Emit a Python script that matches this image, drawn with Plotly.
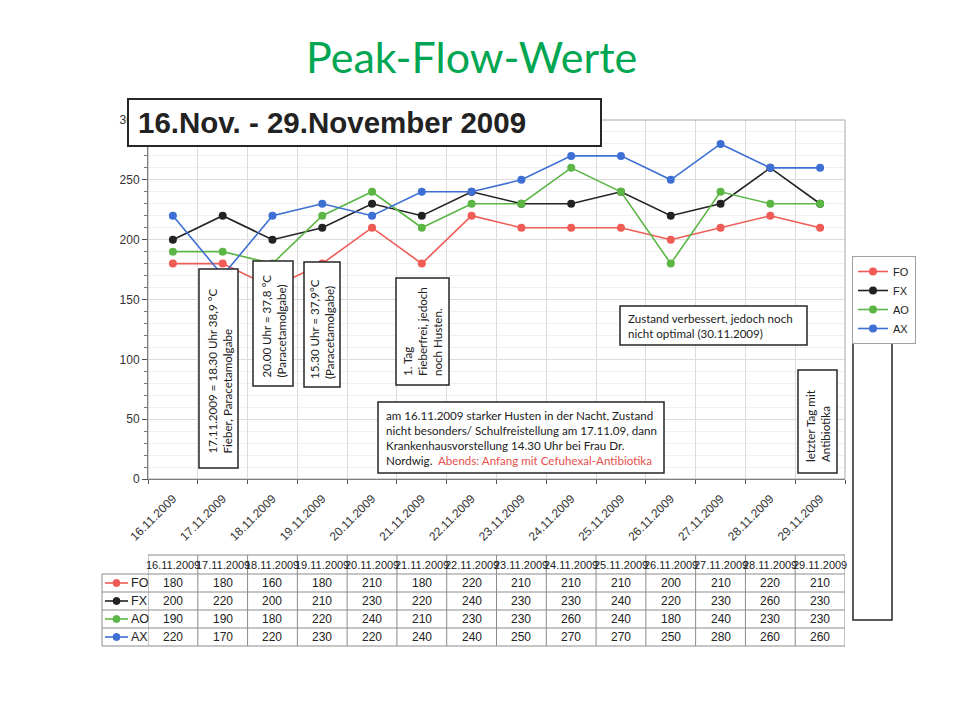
import plotly.graph_objects as go

# ---------------- data ----------------
dates = ["16.11.2009", "17.11.2009", "18.11.2009", "19.11.2009", "20.11.2009",
         "21.11.2009", "22.11.2009", "23.11.2009", "24.11.2009", "25.11.2009",
         "26.11.2009", "27.11.2009", "28.11.2009", "29.11.2009"]
series_names = ["FO", "FX", "AO", "AX"]
fo = [180, 180, 160, 180, 210, 180, 220, 210, 210, 210, 200, 210, 220, 210]
fx = [200, 220, 200, 210, 230, 220, 240, 230, 230, 240, 220, 230, 260, 230]
ao = [190, 190, 180, 220, 240, 210, 230, 230, 260, 240, 180, 240, 230, 230]
ax = [220, 170, 220, 230, 220, 240, 240, 250, 270, 270, 250, 280, 260, 260]
series_values = [fo, fx, ao, ax]
colors = ["#EF5B55", "#222222", "#5CB646", "#3D6FD4"]
y_ticks = [0, 50, 100, 150, 200, 250, 300]

page_title = "Peak-Flow-Werte"
chart_title = "16.Nov. - 29.November 2009"
notes = {
    "n1": "17.11.2009 = 18.30 Uhr 38,9 °C<br>Fieber, Paracetamolgabe",
    "n2": "20.00 Uhr = 37,8 °C<br>(Paracetamolgabe)",
    "n3": "15.30 Uhr = 37,9°C<br>(Paracetamolgabe)",
    "n4": "1. Tag<br>Fieberfrei, jedoch<br>noch Husten.",
    "n5": ("am 16.11.2009 starker Husten in der Nacht, Zustand<br>"
           "nicht besonders/ Schulfreistellung am 17.11.09, dann<br>"
           "Krankenhausvorstellung 14.30 Uhr bei Frau Dr.<br>"
           "Nordwig.  <span style='color:#E8504B'>Abends: Anfang mit Cefuhexal-Antibiotika</span>"),
    "n6": "Zustand verbessert, jedoch noch<br>nicht optimal (30.11.2009)",
    "n7": "letzter Tag mit<br>Antibiotika",
}

# ---------------- geometry helpers (pixel -> paper) ----------------
W, H = 960, 720
X0, X1, YB, YT = 148, 845, 479, 120


def px(x):
    return (x - X0) / (X1 - X0)


def py(y):
    return (YB - y) / (YB - YT)


NOTE_FONT = "Lato, 'Open Sans', sans-serif"
AX_FONT = "Arial, 'Liberation Sans', sans-serif"
NOTE_SIZE = 11.6

fig = go.Figure()
for name, vals, col in zip(series_names, series_values, colors):
    fig.add_trace(go.Scatter(
        x=dates, y=vals, name=name, mode="lines+markers",
        line=dict(color=col, width=1.6),
        marker=dict(color=col, size=8),
    ))

shapes = []
annotations = []

# plot area border
shapes.append(dict(type="rect", xref="paper", yref="paper", x0=0, x1=1, y0=0, y1=1,
                   line=dict(color="#A8A8A8", width=1), layer="above"))


def box(x0, y0, x1, y1, lw=1.5, fill="white"):
    shapes.append(dict(type="rect", xref="paper", yref="paper",
                       x0=px(x0), x1=px(x1), y0=py(y1), y1=py(y0),
                       line=dict(color="#262626", width=lw), fillcolor=fill, layer="above"))


# title box
box(128, 99, 601, 146, lw=2)
annotations.append(dict(xref="paper", yref="paper", x=px(136), y=py(122.5),
                        xanchor="left", yanchor="middle", showarrow=False,
                        text="<b>" + chart_title + "</b>",
                        font=dict(family=AX_FONT, size=29.5, color="#222222")))

# note boxes
box(199, 269, 238, 468)
box(253, 261, 293, 386)
box(304, 262, 340, 387)
box(396, 278, 449, 385)
box(378, 402, 664, 473)
box(620, 306, 807, 345)
box(798, 370, 837, 473)
box(853, 340, 892, 620, fill="rgba(0,0,0,0)")


def vnote(text, xc, ybottom):
    annotations.append(dict(xref="paper", yref="paper", x=px(xc), y=py(ybottom),
                            xanchor="center", yanchor="bottom", textangle=-90,
                            align="left", showarrow=False, text=text,
                            font=dict(family=NOTE_FONT, size=NOTE_SIZE, color="#222222")))


def hnote(text, xl, yc):
    annotations.append(dict(xref="paper", yref="paper", x=px(xl), y=py(yc),
                            xanchor="left", yanchor="middle",
                            align="left", showarrow=False, text=text,
                            font=dict(family=NOTE_FONT, size=NOTE_SIZE, color="#222222")))


vnote(notes["n1"], 219, 456)
vnote(notes["n2"], 273, 380)
vnote(notes["n3"], 322, 381)
vnote(notes["n4"], 422.5, 378)
hnote(notes["n5"], 384, 437.5)
hnote(notes["n6"], 626, 325.5)
vnote(notes["n7"], 817.5, 464)

# page title
annotations.append(dict(xref="paper", yref="paper", x=px(471), y=py(57),
                        xanchor="center", yanchor="middle", showarrow=False,
                        text=page_title,
                        font=dict(family="Lato, 'Open Sans', sans-serif", size=43, color="#00A651")))

# ---------------- data table ----------------
row_lines = [555, 574, 592, 610, 628, 646]
grid_col = "#8C8C8C"
n = len(dates)
# horizontal lines
for i, yl in enumerate(row_lines):
    if i == 0:
        shapes.append(dict(type="line", xref="x", yref="paper", x0=-0.5, x1=n - 0.5,
                           y0=py(yl), y1=py(yl), line=dict(color=grid_col, width=1)))
    else:
        shapes.append(dict(type="line", xref="paper", yref="paper", x0=px(102), x1=1,
                           y0=py(yl), y1=py(yl), line=dict(color=grid_col, width=1)))
# vertical lines
for k in range(n + 1):
    shapes.append(dict(type="line", xref="x", yref="paper", x0=k - 0.5, x1=k - 0.5,
                       y0=py(row_lines[0]), y1=py(row_lines[-1]),
                       line=dict(color=grid_col, width=1)))
shapes.append(dict(type="line", xref="paper", yref="paper", x0=px(102), x1=px(102),
                   y0=py(row_lines[1]), y1=py(row_lines[-1]),
                   line=dict(color=grid_col, width=1)))

# header
for k, d in enumerate(dates):
    annotations.append(dict(xref="x", yref="paper", x=k, y=py((row_lines[0] + row_lines[1]) / 2),
                            xanchor="center", yanchor="middle", showarrow=False, text=d,
                            font=dict(family=AX_FONT, size=11, color="#222222")))
# rows
for r, (name, vals, col) in enumerate(zip(series_names, series_values, colors)):
    yc = (row_lines[r + 1] + row_lines[r + 2]) / 2
    shapes.append(dict(type="line", xref="paper", yref="paper", x0=px(105), x1=px(128),
                       y0=py(yc), y1=py(yc), line=dict(color=col, width=1.6)))
    shapes.append(dict(type="circle", xref="paper", yref="paper",
                       x0=px(113), x1=px(120), y0=py(yc + 3.5), y1=py(yc - 3.5),
                       line=dict(color=col, width=1), fillcolor=col))
    annotations.append(dict(xref="paper", yref="paper", x=px(129), y=py(yc),
                            xanchor="left", yanchor="middle", showarrow=False, text=name,
                            font=dict(family=AX_FONT, size=12.5, color="#222222")))
    for k, v in enumerate(vals):
        annotations.append(dict(xref="x", yref="paper", x=k, y=py(yc),
                                xanchor="center", yanchor="middle", showarrow=False, text=str(v),
                                font=dict(family=AX_FONT, size=12, color="#222222")))

fig.update_layout(
    width=W, height=H, autosize=False,
    margin=dict(l=X0, r=W - X1, t=YT, b=H - YB, pad=0),
    paper_bgcolor="white", plot_bgcolor="white",
    showlegend=True,
    legend=dict(x=px(852), y=py(256), xanchor="left", yanchor="top",
                bordercolor="#A0A0A0", borderwidth=1, bgcolor="white",
                font=dict(family=AX_FONT, size=11, color="#222222"),
                itemwidth=30, tracegroupgap=0),
    xaxis=dict(type="category", categoryorder="array", categoryarray=dates,
               range=[-0.5, n - 0.5], tickangle=-45, tickson="boundaries",
               ticks="outside", ticklen=4, tickcolor="#555555", ticklabelstandoff=7,
               showgrid=True, gridcolor="#DCDCDC", showline=True, linecolor="#555555",
               tickfont=dict(family=AX_FONT, size=12, color="#333333"),
               fixedrange=True),
    yaxis=dict(range=[0, 300], tickvals=y_ticks, ticks="outside", ticklen=5,
               tickcolor="#555555", showline=True, linecolor="#555555",
               showgrid=True, gridcolor="#DCDCDC", zeroline=False,
               minor=dict(dtick=10, ticks="outside", ticklen=3, tickcolor="#777777",
                          showgrid=True, gridcolor="#F0F0F0"),
               tickfont=dict(family=AX_FONT, size=12, color="#333333"),
               fixedrange=True),
    shapes=shapes,
    annotations=annotations,
)

fig.write_html("out.html")
